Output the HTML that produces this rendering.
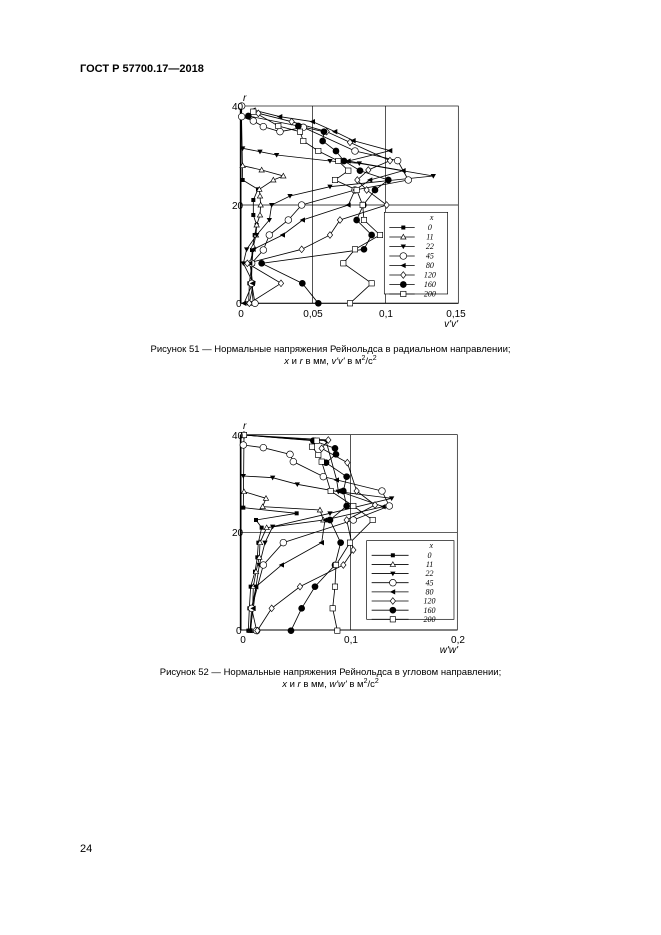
<!DOCTYPE html>
<html><head><meta charset="utf-8"><style>
body{margin:0;background:#fff;width:661px;height:935px;overflow:hidden;position:relative;font-family:"Liberation Sans",sans-serif;color:#000}
.t{position:absolute;font-size:9.5px;white-space:nowrap}
</style></head><body>
<div class="t" style="left:80px;top:63px;font-size:11px;font-weight:bold">ГОСТ Р 57700.17—2018</div>
<div class="t" style="left:0;width:661px;text-align:center;top:344px">Рисунок 51 — Нормальные напряжения Рейнольдса в радиальном направлении;<br><i>x</i> и <i>r</i> в мм, <i>v'v'</i> в м<sup style="font-size:7px">2</sup>/c<sup style="font-size:7px">2</sup></div>
<div class="t" style="left:0;width:661px;text-align:center;top:667px">Рисунок 52 — Нормальные напряжения Рейнольдса в угловом направлении;<br><i>x</i> и <i>r</i> в мм, <i>w'w'</i> в м<sup style="font-size:7px">2</sup>/c<sup style="font-size:7px">2</sup></div>
<div class="t" style="left:80px;top:843px;font-size:11px">24</div>
<svg width="661" height="935" style="position:absolute;left:0;top:0" id="s"></svg>
<script>
const S=document.getElementById('s');let h='';
function mk(t,x,y){const r=9;switch(t){
case 0:return `<rect x="${x-6}" y="${y-6}" width="12" height="12" fill="#000"/>`;
case 1:return `<polygon points="${x},${y-8} ${x-8},${y+6} ${x+8},${y+6}" fill="#fff" stroke="#000" stroke-width="2"/>`;
case 2:return `<polygon points="${x},${y+8} ${x-8},${y-6} ${x+8},${y-6}" fill="#000"/>`;
case 3:return `<circle cx="${x}" cy="${y}" r="${r+1}" fill="#fff" stroke="#000" stroke-width="2"/>`;
case 4:return `<polygon points="${x-9},${y} ${x+7},${y-8} ${x+7},${y+8}" fill="#000"/>`;
case 5:return `<polygon points="${x},${y-10} ${x+8},${y} ${x},${y+10} ${x-8},${y}" fill="#fff" stroke="#000" stroke-width="2"/>`;
case 6:return `<circle cx="${x}" cy="${y}" r="${r+1}" fill="#000"/>`;
case 7:return `<rect x="${x-8}" y="${y-8}" width="16" height="16" fill="#fff" stroke="#000" stroke-width="2"/>`;}}
function chart(ox,oy,W,xt,data,leg){
 let g=`<g transform="translate(${ox},${oy}) scale(0.3333)">`;
 g+=`<rect x="62" y="${W.top}" width="${W.r-62}" height="${W.b-W.top}" fill="none" stroke="#000" stroke-width="2"/>`;
 g+=`<line x1="62" y1="${W.top}" x2="62" y2="${W.b}" stroke="#000" stroke-width="5"/>`;
 g+=`<line x1="62" y1="${W.b}" x2="${W.r}" y2="${W.b}" stroke="#000" stroke-width="3"/>`;
 W.gx.forEach(x=>g+=`<line x1="${x}" y1="${W.top}" x2="${x}" y2="${W.b}" stroke="#000" stroke-width="2"/>`);
 g+=`<line x1="62" y1="${W.g20}" x2="${W.r}" y2="${W.g20}" stroke="#000" stroke-width="2"/>`;
 data.forEach((d,i)=>{g+=`<polyline points="${d.map(p=>p.join(',')).join(' ')}" fill="none" stroke="#000" stroke-width="2.5"/>`;});
 data.forEach((d,i)=>d.forEach(p=>g+=mk(i,p[0],p[1])));
 // legend
 g+=`<rect x="${leg[0]}" y="${leg[1]}" width="${leg[2]}" height="${leg[3]}" fill="#fff" stroke="#000" stroke-width="2"/>`;
 const lx=leg[0],ly=leg[1],lh=leg[3]/8.6;const names=['0','11','22','45','80','120','160','200'];
 g+=`<text x="${lx+leg[2]*0.72}" y="${ly+lh*0.8}" font-family="Liberation Serif" font-style="italic" font-size="24">x</text>`;
 names.forEach((n,i)=>{const y=ly+lh*(1.6+i);g+=`<line x1="${lx+15}" y1="${y}" x2="${lx+leg[2]*0.48}" y2="${y}" stroke="#000" stroke-width="2.5"/>`+mk(i,lx+leg[2]*0.3,y)+`<text x="${lx+leg[2]*0.72}" y="${y+8}" font-family="Liberation Serif" font-style="italic" font-size="24" text-anchor="middle">${n}</text>`;});
 g+=`</g>`;return g;}
const d1=[
[[64,48],[68,270],[114,298],[100,330],[100,375],[110,405],[104,435],[96,480],[96,520],[88,580],[86,640]],
[[68,227],[125,240],[190,258],[160,270],[118,298],[120,318],[122,345],[120,375],[110,405],[108,435],[100,470],[96,520],[94,580],[100,640]],
[[68,175],[120,185],[170,195],[330,213],[418,220],[640,258],[330,290],[210,318],[155,345],[148,390],[110,435],[80,478],[70,520],[100,580],[88,640]],
[[65,48],[65,80],[100,93],[130,110],[180,125],[250,112],[405,183],[533,212],[565,270],[405,300],[245,345],[205,390],[148,435],[130,480],[95,520],[95,580],[105,640]],
[[100,60],[180,80],[278,95],[345,125],[400,152],[510,182],[385,213],[550,242],[450,270],[405,300],[385,345],[248,390],[188,435],[100,478],[90,520],[98,580],[72,640]],
[[115,70],[215,95],[320,125],[390,157],[510,212],[445,240],[412,270],[440,300],[500,345],[360,390],[330,435],[245,478],[82,520],[183,580],[88,640]],
[[85,78],[235,108],[312,125],[308,153],[348,183],[372,213],[420,242],[505,270],[465,300],[430,345],[410,390],[455,435],[432,478],[125,520],[247,580],[295,640]],
[[100,65],[175,108],[240,125],[250,153],[295,183],[355,213],[385,242],[345,270],[410,300],[428,345],[432,390],[480,435],[405,478],[370,520],[455,580],[390,640]]];
const d2=[
[[72,45],[70,263],[230,280],[108,300],[125,323],[115,368],[112,412],[105,455],[92,500],[88,565],[85,632]],
[[72,215],[138,235],[128,260],[300,270],[310,300],[140,323],[120,368],[118,412],[108,455],[100,500],[98,565],[92,632]],
[[70,168],[158,173],[232,193],[355,215],[515,235],[330,280],[158,320],[135,368],[118,435],[108,500],[95,565],[90,632]],
[[70,75],[130,83],[210,103],[220,125],[310,170],[486,213],[508,258],[400,300],[190,368],[130,435],[95,565],[110,632]],
[[72,45],[280,60],[318,62],[350,180],[355,213],[490,260],[315,300],[305,368],[185,435],[108,500],[100,565],[90,632]],
[[72,45],[325,60],[305,85],[382,128],[410,213],[465,255],[380,300],[400,390],[370,435],[240,500],[155,565],[112,632]],
[[72,45],[280,62],[345,85],[348,103],[318,128],[380,170],[370,213],[380,258],[330,300],[362,368],[345,435],[285,500],[245,565],[213,632]],
[[72,45],[290,62],[276,80],[295,105],[305,125],[332,213],[400,258],[458,300],[390,368],[348,435],[345,500],[338,565],[352,632]]];
h+=chart(220,90,{top:48,b:640,r:715,gx:[278,497],g20:345},'',d1,[493,367,190,245]);
h+=chart(220,420,{top:44,b:630,r:712,gx:[392],g20:337},'',d2,[440,362,262,236]);
const T=(x,y,s,a,it)=>`<text x="${x}" y="${y}" font-family="Liberation Sans" font-size="10" ${a?`text-anchor="${a}"`:''} ${it?'font-style="italic"':''}>${s}</text>`;
h+=T(232,110,'40')+T(232,209,'20')+T(236,307,'0')+T(243,101,'r','',1);
h+=T(241,317,'0','middle')+T(313,317,'0,05','middle')+T(386,317,'0,1','middle')+T(456,317,'0,15','middle')+T(458,327,"v'v'",'end',1);
h+=T(232,439,'40')+T(232,536,'20')+T(236,634,'0')+T(243,429,'r','',1);
h+=T(243,643,'0','middle')+T(351,643,'0,1','middle')+T(458,643,'0,2','middle')+T(458,653,"w'w'",'end',1);
S.innerHTML=h;
</script>
</body></html>
